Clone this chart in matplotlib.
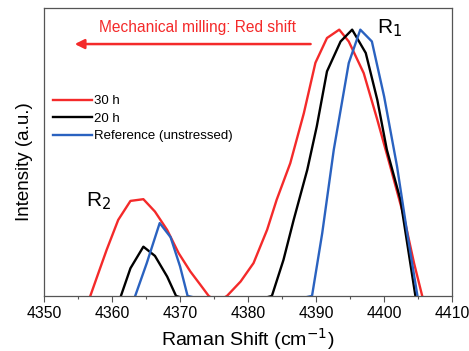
import numpy as np
import matplotlib.pyplot as plt

plt.rcParams['font.family'] = ['Liberation Sans', 'DejaVu Sans']

# Raman shift (cm^-1) and intensity (a.u.)
x30_r2 = [4356.8, 4357.8, 4359.2, 4360.9, 4362.7, 4364.6, 4366.3, 4368.1, 4369.8, 4371.5, 4373.0, 4374.2, 4375.5]
y30_r2 = [0.0, 0.067, 0.16, 0.264, 0.33, 0.336, 0.293, 0.229, 0.148, 0.085, 0.038, 0.0, -0.02]
x30_r1 = [4375.5, 4376.9, 4378.9, 4380.8, 4382.8, 4384.2, 4386.2, 4388.2, 4389.9, 4391.6, 4393.4, 4394.8,
          4397.0, 4399.0, 4400.9, 4402.9, 4404.4, 4405.6]
y30_r1 = [-0.02, 0.0, 0.05, 0.114, 0.23, 0.334, 0.461, 0.635, 0.81, 0.896, 0.925, 0.884,
          0.774, 0.612, 0.45, 0.276, 0.114, 0.0]

x20 = [4361.3, 4362.7, 4364.6, 4366.3, 4368.1, 4369.4, 4376.0,
       4383.5, 4385.2, 4386.7, 4388.7, 4390.1, 4391.6, 4393.6, 4395.3, 4397.3, 4399.0, 4400.4, 4402.4, 4404.6]
y20 = [0.0, 0.096, 0.171, 0.139, 0.067, 0.0, -0.05,
       0.0, 0.125, 0.264, 0.438, 0.589, 0.78, 0.884, 0.925, 0.844, 0.681, 0.508, 0.334, 0.0]

xref = [4363.4, 4365.1, 4367.0, 4368.6, 4370.0, 4371.1, 4380.0,
        4389.4, 4390.9, 4392.6, 4394.8, 4396.5, 4398.2, 4400.0, 4401.9, 4403.4, 4404.9]
yref = [0.0, 0.114, 0.253, 0.204, 0.102, 0.0, -0.05,
        0.0, 0.218, 0.508, 0.809, 0.925, 0.884, 0.693, 0.45, 0.218, 0.0]

red = '#f42a2a'
blue = '#2a62c0'

fig = plt.figure(figsize=(4.69, 3.51), dpi=100)
ax = fig.add_axes([0.094, 0.157, 0.870, 0.820])

ax.plot(x30_r2 + x30_r1[1:], y30_r2 + y30_r1[1:], color=red, lw=1.7, label='30 h')
ax.plot(x20, y20, color='black', lw=1.7, label='20 h')
ax.plot(xref, yref, color=blue, lw=1.7, label='Reference (unstressed)')

ax.set_xlim(4350, 4410)
ax.set_ylim(0, 1)
ax.set_xticks(np.arange(4350, 4411, 10))
ax.set_xticks(np.arange(4355, 4410, 10), minor=True)
ax.set_yticks([])
ax.tick_params(axis='x', direction='out', length=4, width=0.8, labelsize=11.3, pad=3, colors='#555555',
               labelcolor='black')
ax.tick_params(axis='x', which='minor', direction='out', length=2.5, width=0.8, colors='#555555')
for s in ax.spines.values():
    s.set_color('#555555')
    s.set_linewidth(0.9)

ax.set_xlabel('Raman Shift (cm$^{-1}$)', fontsize=14, labelpad=4)
ax.set_ylabel('Intensity (a.u.)', fontsize=13.5)
ax.yaxis.set_label_coords(-0.028, 0.465)

ax.annotate('', xy=(4354.1, 0.875), xytext=(4389.6, 0.875),
            arrowprops=dict(arrowstyle='-|>', color=red, lw=1.8, mutation_scale=14))
ax.text(4372.5, 0.934, 'Mechanical milling: Red shift', color=red, fontsize=11.2,
        ha='center', va='center')
ax.text(4400.8, 0.93, 'R$_1$', fontsize=15, ha='center', va='center')
ax.text(4358.0, 0.33, 'R$_2$', fontsize=15, ha='center', va='center')

ax.legend(loc='upper left', bbox_to_anchor=(0.0, 0.73), frameon=False, fontsize=9.5,
          handlelength=2.9, handletextpad=0.15, labelspacing=0.4, borderaxespad=0.3)

fig.savefig('out.png', dpi=100)
